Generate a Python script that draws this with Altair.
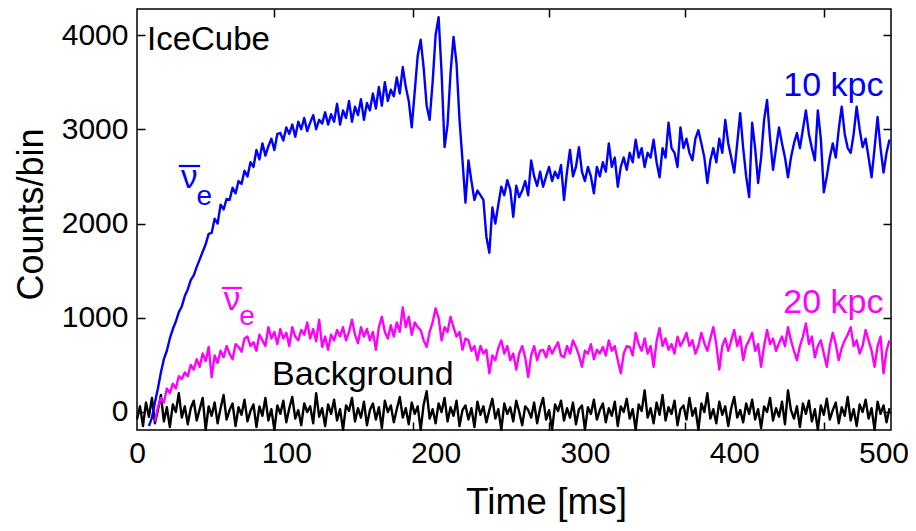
import altair as alt
import numpy as np
import pandas as pd

# ---------------- data (2 ms bins) ----------------
STEP_MS = 2

blue_start = 8  # 10 kpc
blue_vals = [
    -150, -60, 100, 250, 420, 560, 650, 780, 880, 960, 1060, 1120, 1230, 1300, 1400, 1450,
    1540, 1620, 1700, 1780, 1890, 1900, 2050, 2000, 2200, 2150, 2260, 2250, 2380, 2320, 2450, 2420,
    2560, 2500, 2650, 2600, 2780, 2680, 2850, 2720, 2820, 2900, 2780, 2950, 2960, 2880, 3020, 2950,
    3050, 2920, 3080, 3000, 3120, 2980, 3070, 3150, 3000, 3100, 3060, 3180, 3050, 3160, 3080, 3270,
    3050, 3200, 3120, 3300, 3080, 3240, 3150, 3320, 3100, 3280, 3200, 3380, 3220, 3450, 3250, 3500,
    3300, 3420, 3350, 3550, 3380, 3660, 3450, 3300, 3020, 3400, 3780, 3950, 3650, 3250, 3100, 3500,
    4000, 4190, 3600, 2810, 3050, 3600, 3980, 3700, 3100, 2670, 2220, 2670, 2450, 2250, 2350, 2300,
    2250, 1860, 1690, 2170, 2000, 2200, 2390, 2300, 2460, 2360, 2070, 2400, 2280, 2350, 2450, 2300,
    2670, 2500, 2400, 2550, 2390, 2500, 2600, 2450, 2550, 2480, 2620, 2250, 2550, 2780, 2500, 2600,
    2810, 2550, 2450, 2600, 2500, 2320, 2600, 2500, 2650, 2550, 2850, 2600, 2700, 2390, 2600, 2700,
    2570, 2750, 2650, 2890, 2700, 2800, 2600, 2750, 2700, 2890, 2650, 2490, 2800, 2700, 3070, 2800,
    2750, 2600, 3020, 2800, 2900, 2750, 2670, 2900, 2990, 2850, 2700, 2430, 2670, 2800, 2650, 2900,
    2750, 3100, 2850, 2700, 2540, 2850, 3170, 2800, 2500, 2280, 3070, 2800, 2430, 2700, 3100, 3310,
    2900, 2570, 2800, 3020, 2850, 2700, 2490, 2700, 2850, 2960, 2800, 3000, 3200, 2950, 2800, 2670,
    3200, 2900, 2330, 2500, 2700, 2850, 2700, 3000, 3240, 2950, 2800, 2750, 2950, 3240, 3000, 2810,
    2900, 2700, 2490, 2800, 3130, 2800, 2540, 2750, 2890,
]

magenta_start = 12  # 20 kpc
magenta_vals = [
    -100, 50, 150, 100, 250, 200, 300, 250, 380, 350, 420, 380, 500, 450, 560, 480,
    620, 540, 690, 370, 600, 520, 650, 580, 700, 620, 560, 720, 690, 640, 780, 800,
    700, 740, 650, 820, 760, 700, 900, 780, 850, 720, 880, 780, 840, 700, 900, 800,
    760, 870, 820, 950, 780, 880, 750, 980, 690, 800, 660, 820, 760, 870, 800, 900,
    760, 850, 980, 820, 730, 900, 800, 880, 760, 850, 660, 900, 1010, 850, 780, 920,
    800, 950, 850, 1110, 900, 1010, 820, 950, 900, 870, 760, 690, 850, 950, 1100, 1000,
    760, 900, 850, 1010, 900, 800, 850, 660, 780, 760, 650, 700, 550, 700, 620, 660,
    410, 600, 550, 680, 760, 620, 700, 550, 620, 450, 620, 700, 580, 370, 600, 700,
    550, 650, 660, 580, 700, 620, 680, 740, 600, 580, 700, 620, 760, 690, 600, 480,
    650, 620, 720, 560, 660, 620, 690, 600, 760, 650, 700, 550, 410, 620, 700, 690,
    600, 840, 720, 650, 780, 620, 700, 480, 750, 890, 700, 780, 660, 720, 620, 800,
    700, 760, 840, 700, 760, 620, 700, 840, 730, 650, 780, 900, 720, 450, 700, 780,
    650, 760, 870, 700, 800, 550, 700, 760, 840, 650, 720, 480, 700, 870, 720, 780,
    650, 730, 800, 700, 900, 760, 650, 550, 700, 800, 940, 720, 800, 580, 700, 760,
    620, 480, 700, 840, 720, 550, 680, 760, 820, 900, 700, 760, 620, 700, 870, 760,
    650, 480, 700, 800, 410, 650, 760,
]

background_start = 0
background_vals = [
    -80, 60, -150, 100, -50, 150, -120, 20, 180, -100, 50, -160, 80, 0, 200, -60,
    60, -130, 40, 120, -90, 30, 150, -190, 60, -40, 100, -120, 40, 180, -80, 20,
    90, -150, 50, -30, 130, -100, 10, 80, -160, 60, -40, 150, -90, 30, -190, 70,
    -20, 120, -110, 40, 160, -70, 20, -140, 90, 0, 60, -120, 200, -50, 40, -150,
    80, -20, 130, -90, 30, -190, 70, 10, 150, -100, 40, -60, 110, -140, 20, 90,
    -80, 50, -170, 120, 0, 70, -110, 30, 160, -60, 40, -130, 100, -20, 60, -190,
    80, 220, -70, 30, -120, 90, 0, 150, -100, 50, -40, 120, -150, 20, 70, -80,
    40, -160, 110, -30, 60, -110, 20, 140, -70, 30, -190, 90, -20, 50, -100, 120,
    0, -140, 60, 20, -60, 100, -120, 40, 150, -80, 20, -190, 80, 10, 120, -90,
    40, -60, 100, -130, 30, 70, -190, 50, -20, 130, -80, 20, 90, -110, 40, -40,
    110, -150, 60, 0, 140, -70, 30, -190, 80, 10, 230, -60, 40, -120, 100, -30,
    180, -90, 50, -20, 120, -140, 30, 70, -80, 150, -40, 40, -190, 90, 0, 200,
    -70, 30, -120, 110, -30, 60, -150, 40, 160, -60, 20, -110, 90, -20, 130, -80,
    30, -170, 60, 0, 150, -90, 40, -50, 110, -130, 230, 20, -70, 60, -160, 90,
    -20, 120, -100, 30, -190, 70, -30, 140, -80, 20, 100, -120, 50, -40, 160, -90,
    30, -150, 80, 0, 130, -70, 40, -190, 110, -20, 70, -110, 40,
]

# annotation texts
label_text = ["IceCube", "10 kpc", "20 kpc", "Background", "ν", "e", "ν", "e"]
label_t = [6.7, 500, 500, 90.5, 35, 45, 63.7, 73.7]
label_v = [3841, 3353, 1050, 286, 2377, 2196, 1082, 923]
label_color = ["black", "#0000ff", "#ff00ff", "black", "#0000ff", "#0000ff", "#ff00ff", "#ff00ff"]
label_size = [33, 34, 34, 34, 33, 28, 33, 28]
label_align = ["left", "right", "right", "left", "center", "center", "center", "center"]

# overbars of the anti-neutrino symbols
bar_t1 = [28.0, 56.9]
bar_t2 = [42.3, 70.4]
bar_v = [2610, 1316]
bar_color = ["#0000ff", "#ff00ff"]

x_ticks_labelled = [0, 100, 200, 300, 400, 500]
x_ticks_frame = [91.8, 185.0, 276.1, 367.3, 459.8]
y_ticks = [0, 1000, 2000, 3000, 4000]

X_DOMAIN = [0, 505]
Y_DOMAIN = [-191, 4276]

# ---------------- build tables ----------------
def series(start, vals, name):
    t = start + STEP_MS * np.arange(len(vals))
    return pd.DataFrame({"t": t, "v": vals, "s": name})

df_blue = series(blue_start, blue_vals, "10 kpc")
df_mag = series(magenta_start, magenta_vals, "20 kpc")
df_bg = series(background_start, background_vals, "Background")
df_lab = pd.DataFrame({"label": label_text, "t": label_t, "v": label_v,
                       "color": label_color, "size": label_size, "align": label_align})
df_bar = pd.DataFrame({"t": bar_t1, "t2": bar_t2, "v": bar_v, "color": bar_color})

FONT = "Liberation Sans"
LW = 2.4

xs = alt.Scale(domain=X_DOMAIN, nice=False, zero=False)
ys = alt.Scale(domain=Y_DOMAIN, nice=False, zero=False)

x_axis = alt.Axis(
    values=x_ticks_labelled + x_ticks_frame,
    labelExpr="datum.value % 100 == 0 ? datum.label : ''",
    tickOpacity={"condition": {"test": "datum.value % 100 == 0", "value": 0}, "value": 1},
    tickSize={"expr": "-8"}, tickColor="black", tickWidth=1.5,
    labelPadding=16, labelFontSize=30, labelFont=FONT, labelColor="black",
    labelOverlap=False, labelFlush=False,
    title="Time [ms]", titleFontSize=37, titleFont=FONT, titleFontWeight="normal",
    titleColor="black", titleX=409, titleY=83, titleBaseline="alphabetic", titleAlign="center",
    domain=False, grid=False,
)
y_axis = alt.Axis(
    values=y_ticks, format="d",
    tickSize={"expr": "-8"}, tickColor="black", tickWidth=1.5,
    labelPadding=17, labelFontSize=30, labelFont=FONT, labelColor="black",
    labelOverlap=False, labelFlush=False,
    title="Counts/bin", titleFontSize=36, titleFont=FONT, titleFontWeight="normal",
    titleColor="black", titleX=-95, titleY=205, titleAngle=270,
    titleBaseline="alphabetic", titleAlign="center",
    domain=False, grid=False,
)
x_top = alt.Axis(orient="top", values=x_ticks_frame, labels=False, title=None,
                 tickSize={"expr": "-8"}, tickColor="black", tickWidth=1.5,
                 domain=False, grid=False)
y_right = alt.Axis(orient="right", values=y_ticks, labels=False, title=None,
                   tickSize={"expr": "-8"}, tickColor="black", tickWidth=1.5,
                   domain=False, grid=False)

bg_line = alt.Chart(df_bg).mark_line(color="black", strokeWidth=LW, strokeJoin="round").encode(
    x=alt.X("t:Q", scale=xs, axis=x_axis),
    y=alt.Y("v:Q", scale=ys, axis=y_axis),
)
ghost = alt.Chart(df_bg).mark_line(color="black", strokeOpacity=0).encode(
    x=alt.X("t:Q", scale=xs, axis=x_top),
    y=alt.Y("v:Q", scale=ys, axis=y_right),
)

def line(df, color):
    return alt.Chart(df).mark_line(color=color, strokeWidth=LW, strokeJoin="round").encode(
        x=alt.X("t:Q", scale=xs, axis=None),
        y=alt.Y("v:Q", scale=ys, axis=None),
    )

def texts(align):
    return alt.Chart(df_lab).transform_filter(alt.datum.align == align).mark_text(
        align=align, baseline="alphabetic", font=FONT
    ).encode(
        x=alt.X("t:Q", scale=xs, axis=None),
        y=alt.Y("v:Q", scale=ys, axis=None),
        text="label:N",
        color=alt.Color("color:N", scale=None),
        size=alt.Size("size:Q", scale=None),
    )

bars = alt.Chart(df_bar).mark_rule(strokeWidth=2.2).encode(
    x=alt.X("t:Q", scale=xs, axis=None),
    x2="t2:Q",
    y=alt.Y("v:Q", scale=ys, axis=None),
    color=alt.Color("color:N", scale=None),
)

chart = alt.layer(
    bg_line, ghost,
    line(df_mag, "#ff00ff"),
    line(df_blue, "#0000ff"),
    texts("left"), texts("right"), texts("center"), bars,
).resolve_axis(x="independent", y="independent").properties(
    width=754, height=421,
    autosize=alt.AutoSizeParams(type="none"),
    padding={"left": 129, "top": 1, "right": 17, "bottom": 93},
    background="white",
).configure_view(stroke="black", strokeWidth=1.5)

chart.save("out.html", embed_options={"renderer": "svg", "actions": False})
